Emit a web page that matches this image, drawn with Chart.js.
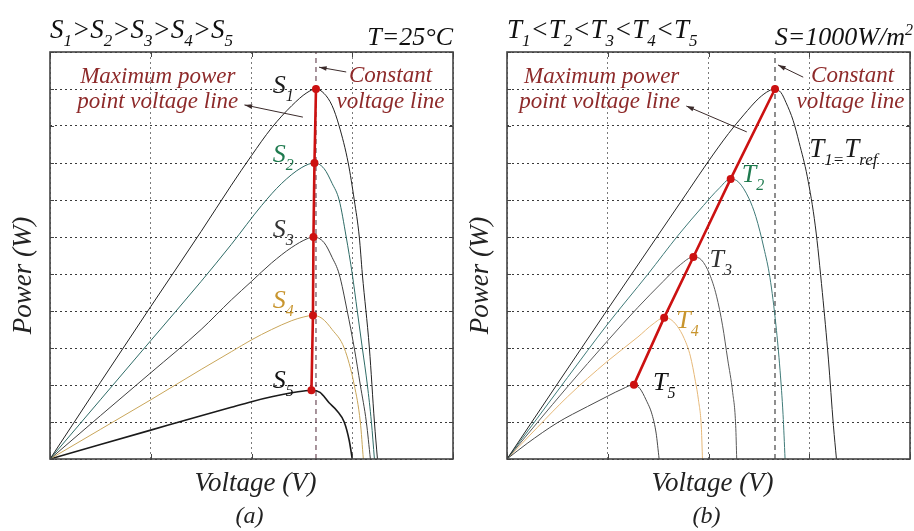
<!DOCTYPE html>
<html>
<head>
<meta charset="utf-8">
<script src="https://cdn.jsdelivr.net/npm/chart.js@4"></script>
<style>
  html, body { margin: 0; padding: 0; background: #fff; }
  #wrap { position: relative; width: 914px; height: 531px; overflow: hidden; }
  canvas { position: absolute; top: 0; }
  #chartA { left: 0; }
  #chartB { left: 457px; }
</style>
</head>
<body>
<div id="wrap">
  <canvas id="chartA" width="457" height="531"></canvas>
  <canvas id="chartB" width="457" height="531"></canvas>
</div>
<script>
// (a) P-V curves at T=25°C for five irradiance levels
const s1V = [0, 0.5, 1, 1.5, 1.8, 2.0, 2.2, 2.4, 2.55, 2.64, 2.72, 2.8, 2.87, 2.96, 3.02, 3.07, 3.10, 3.17, 3.22, 3.25];
const s1P = [0, 2.07, 4.12, 6.15, 7.4, 8.2, 8.95, 9.55, 9.9, 10, 9.88, 9.55, 9.0, 8.0, 7.0, 6.0, 5.0, 3.0, 1.0, 0];
const s2V = [0, 0.5, 1, 1.5, 1.8, 2.1, 2.3, 2.5, 2.625, 2.72, 2.8, 2.87, 2.94, 3.0, 3.05, 3.1, 3.15, 3.19, 3.22];
const s2P = [0, 1.6, 3.2, 4.8, 5.8, 6.85, 7.45, 7.88, 8.0, 7.85, 7.45, 7.0, 6.0, 5.0, 4.0, 3.0, 2.0, 1.0, 0];
const s3V = [0, 0.5, 1, 1.5, 1.8, 2.0, 2.2, 2.4, 2.55, 2.615, 2.72, 2.8, 2.87, 2.95, 3.02, 3.08, 3.14, 3.18];
const s3P = [0, 1.17, 2.33, 3.5, 4.3, 4.8, 5.3, 5.72, 5.95, 6.0, 5.85, 5.45, 5.0, 4.0, 3.0, 2.0, 1.0, 0];
const s4V = [0, 0.5, 1, 1.5, 1.8, 2.0, 2.2, 2.4, 2.52, 2.61, 2.7, 2.8, 2.92, 3.02, 3.08, 3.11];
const s4P = [0, 0.8, 1.6, 2.42, 2.9, 3.22, 3.5, 3.74, 3.84, 3.88, 3.8, 3.5, 3.0, 2.0, 1.0, 0];
const s5V = [0, 0.5, 1, 1.5, 1.8, 2.0, 2.2, 2.4, 2.52, 2.595, 2.68, 2.77, 2.85, 2.92, 2.97, 3.0];
const s5P = [0, 0.39, 0.78, 1.17, 1.4, 1.55, 1.68, 1.79, 1.84, 1.86, 1.8, 1.52, 1.3, 1.0, 0.5, 0];
const mppAV = [2.64, 2.625, 2.615, 2.61, 2.595];
const mppAP = [10, 8, 6, 3.88, 1.86];
const constVA = 2.64;

// (b) P-V curves at S=1000W/m2 for five temperatures
const t1V = [0, 0.5, 1, 1.5, 1.8, 2.0, 2.2, 2.35, 2.5, 2.6, 2.66, 2.72, 2.77, 2.84, 2.9, 2.98, 3.06, 3.13, 3.19, 3.24, 3.27];
const t1P = [0, 2.03, 4.05, 6.05, 7.25, 8.05, 8.8, 9.3, 9.75, 9.95, 10, 9.9, 9.63, 9.15, 8.55, 7.64, 6.3, 4.5, 2.7, 0.9, 0];
const t2V = [0, 0.3, 0.6, 1.0, 1.4, 1.7, 1.95, 2.1, 2.22, 2.3, 2.4, 2.47, 2.55, 2.61, 2.67, 2.71, 2.74, 2.76];
const t2P = [0, 1.1, 2.2, 3.65, 5.0, 6.05, 6.85, 7.3, 7.57, 7.48, 7.05, 6.55, 5.7, 4.9, 3.6, 2.4, 1.2, 0];
const t3V = [0, 0.3, 0.6, 1.0, 1.3, 1.55, 1.72, 1.85, 1.93, 2.01, 2.08, 2.14, 2.19, 2.24, 2.27, 2.28];
const t3P = [0, 0.98, 1.95, 3.2, 4.1, 4.8, 5.25, 5.46, 5.38, 5.0, 4.4, 3.6, 2.7, 1.8, 0.9, 0];
const t4V = [0, 0.3, 0.6, 1.0, 1.3, 1.45, 1.56, 1.62, 1.69, 1.76, 1.82, 1.87, 1.9, 1.93, 1.94];
const t4P = [0, 0.85, 1.68, 2.65, 3.3, 3.65, 3.82, 3.78, 3.59, 3.25, 2.78, 2.1, 1.6, 0.8, 0];
const t5V = [0, 0.2, 0.5, 0.8, 1.0, 1.15, 1.26, 1.32, 1.38, 1.44, 1.48, 1.51];
const t5P = [0, 0.42, 0.98, 1.42, 1.7, 1.9, 2.01, 1.9, 1.6, 1.2, 0.7, 0];
const mppBV = [2.66, 2.22, 1.85, 1.56, 1.26];
const mppBP = [10, 7.57, 5.46, 3.82, 2.01];
const constVB = 2.66;

const xTicks = [0, 1, 2, 3, 4];
const yTicks = [0, 1, 2, 3, 4, 5, 6, 7, 8, 9, 10, 11];

const FONT = '"Liberation Serif", "Times New Roman", serif';
const NOTE = '#8e2a2a';
const RED = '#cc1111';

function pts(v, p) {
    return v.map((vv, i) => ({ x: vv, y: p[i] }));
}

function curve(v, p, color, w) {
    return {
        data: pts(v, p), borderColor: color, borderWidth: w || 1, pointRadius: 0,
        showLine: true, cubicInterpolationMode: 'monotone', fill: false
    };
}

function mppLine(v, p) {
    return {
        data: pts(v, p), borderColor: RED, borderWidth: 2.6, pointRadius: 4,
        pointBackgroundColor: RED, pointBorderWidth: 0, showLine: true, tension: 0
    };
}

function constLine(v, color) {
    return {
        data: pts([v, v], [yTicks[0], yTicks[yTicks.length - 1]]), borderColor: color,
        borderWidth: 1.2, borderDash: [5, 4], pointRadius: 0, showLine: true
    };
}

// draws text with subscript (1) / superscript (2) runs
function rich(ctx, parts, x, y, size, color, align) {
    const font = m => 'italic ' + (m ? Math.round(size * 0.62) : size) + 'px ' + FONT;
    let w = 0;
    parts.forEach(p => { ctx.font = font(p[1]); w += ctx.measureText(p[0]).width; });
    let cx = align === 'center' ? x - w / 2 : align === 'right' ? x - w : x;
    ctx.textAlign = 'left';
    ctx.textBaseline = 'alphabetic';
    ctx.fillStyle = color;
    parts.forEach(p => {
        ctx.font = font(p[1]);
        const dy = p[1] === 1 ? size * 0.3 : p[1] === 2 ? -size * 0.4 : 0;
        ctx.fillText(p[0], cx, y + dy);
        cx += ctx.measureText(p[0]).width;
    });
}

function arrow(ctx, x1, y1, x2, y2) {
    const a = Math.atan2(y2 - y1, x2 - x1);
    ctx.strokeStyle = '#3b2b2b';
    ctx.fillStyle = '#3b2b2b';
    ctx.lineWidth = 1;
    ctx.beginPath(); ctx.moveTo(x1, y1); ctx.lineTo(x2, y2); ctx.stroke();
    ctx.beginPath();
    ctx.moveTo(x2, y2);
    ctx.lineTo(x2 - 8 * Math.cos(a - 0.3), y2 - 8 * Math.sin(a - 0.3));
    ctx.lineTo(x2 - 8 * Math.cos(a + 0.3), y2 - 8 * Math.sin(a + 0.3));
    ctx.closePath(); ctx.fill();
}

const decor = {
    id: 'decor',
    afterDraw(chart, args, o) {
        const { ctx, chartArea: ca, scales: { x, y } } = chart;
        const px = v => x.getPixelForValue(v);
        const py = v => y.getPixelForValue(v);
        ctx.save();

        // frame with inward ticks
        ctx.strokeStyle = '#444';
        ctx.lineWidth = 1;
        ctx.beginPath();
        xTicks.forEach(t => {
            const xx = Math.round(px(t)) + 0.5;
            ctx.moveTo(xx, ca.bottom); ctx.lineTo(xx, ca.bottom - 5);
            ctx.moveTo(xx, ca.top); ctx.lineTo(xx, ca.top + 5);
        });
        yTicks.forEach(t => {
            const yy = Math.round(py(t)) + 0.5;
            ctx.moveTo(ca.left, yy); ctx.lineTo(ca.left + 4, yy);
            ctx.moveTo(ca.right, yy); ctx.lineTo(ca.right - 4, yy);
        });
        ctx.stroke();
        ctx.lineWidth = 1.6;
        ctx.strokeRect(ca.left, ca.top, ca.width, ca.height);

        // headers
        rich(ctx, o.headLeft, ca.left, 38, 27, '#111', 'left');
        rich(ctx, o.headRight, ca.right + o.headShift, 45, 26, '#111', 'right');

        // axis titles and panel tag
        ctx.fillStyle = '#222';
        ctx.textAlign = 'center';
        ctx.textBaseline = 'alphabetic';
        ctx.font = 'italic 27px ' + FONT;
        ctx.fillText('Voltage (V)', (ca.left + ca.right) / 2 + 4, 491);
        ctx.save();
        ctx.translate(ca.left - 19, (ca.top + ca.bottom) / 2 + 20);
        ctx.rotate(-Math.PI / 2);
        ctx.fillText('Power (W)', 0, 0);
        ctx.restore();
        ctx.font = 'italic 24px ' + FONT;
        ctx.fillText(o.panel, (ca.left + ca.right) / 2 - 2, 523);

        // annotations
        o.notes.forEach(n => {
            ctx.font = 'italic 23px ' + FONT;
            ctx.fillStyle = NOTE;
            ctx.textAlign = 'center';
            ctx.fillText(n.t, px(n.x), py(n.y));
        });
        o.arrows.forEach(a => arrow(ctx, px(a[0]), py(a[1]), px(a[2]), py(a[3])));
        o.labels.forEach(l => rich(ctx, l.parts, px(l.x), py(l.y), l.size || 26, l.color, 'left'));
        ctx.restore();
    }
};

function options(decorOpts) {
    return {
        responsive: false,
        animation: false,
        events: [],
        layout: { padding: { left: 0, right: 3, top: 52, bottom: 0 } },
        plugins: { legend: { display: false }, tooltip: { enabled: false }, decor: decorOpts },
        scales: {
            x: {
                type: 'linear', min: xTicks[0], max: xTicks[xTicks.length - 1],
                ticks: { display: false, stepSize: 1 },
                grid: { color: '#7a7a7a', drawTicks: false },
                border: { display: false, dash: [2, 3] },
                afterFit: s => { s.height = 72; }
            },
            y: {
                type: 'linear', min: yTicks[0], max: yTicks[yTicks.length - 1],
                ticks: { display: false, stepSize: 1 },
                grid: { color: '#3a3a3a', drawTicks: false },
                border: { display: false, dash: [2, 3] },
                afterFit: s => { s.width = 50; }
            }
        }
    };
}

new Chart(document.getElementById('chartA'), {
    type: 'scatter',
    data: {
        datasets: [
            mppLine(mppAV, mppAP),
            curve(s1V, s1P, '#222'),
            curve(s2V, s2P, '#2e6b66'),
            curve(s3V, s3P, '#404040'),
            curve(s4V, s4P, '#c9a65a'),
            curve(s5V, s5P, '#1a1a1a', 1.6),
            constLine(constVA, '#6e4d5a')
        ]
    },
    options: options({
        panel: '(a)',
        headShift: 0,
        headLeft: [['S', 0], ['1', 1], ['>', 0], ['S', 0], ['2', 1], ['>', 0], ['S', 0], ['3', 1], ['>', 0], ['S', 0], ['4', 1], ['>', 0], ['S', 0], ['5', 1]],
        headRight: [['T=25°C', 0]],
        notes: [
            { t: 'Maximum power', x: 1.07, y: 10.16 },
            { t: 'point voltage line', x: 1.07, y: 9.49 },
            { t: 'Constant', x: 3.38, y: 10.19 },
            { t: 'voltage line', x: 3.38, y: 9.49 }
        ],
        arrows: [[2.94, 10.46, 2.67, 10.59], [2.51, 9.24, 1.93, 9.57]],
        labels: [
            { parts: [['S', 0], ['1', 1]], x: 2.21, y: 9.89, color: '#1a1a1a' },
            { parts: [['S', 0], ['2', 1]], x: 2.21, y: 8.03, color: '#1e7a4e' },
            { parts: [['S', 0], ['3', 1]], x: 2.21, y: 6.0, color: '#333' },
            { parts: [['S', 0], ['4', 1]], x: 2.21, y: 4.08, color: '#c8952e' },
            { parts: [['S', 0], ['5', 1]], x: 2.21, y: 1.92, color: '#111' }
        ]
    }),
    plugins: [decor]
});

new Chart(document.getElementById('chartB'), {
    type: 'scatter',
    data: {
        datasets: [
            mppLine(mppBV, mppBP),
            curve(t1V, t1P, '#262626'),
            curve(t2V, t2P, '#3f7a78'),
            curve(t3V, t3P, '#5a5a5a'),
            curve(t4V, t4P, '#e6b878'),
            curve(t5V, t5P, '#4a4a4a'),
            constLine(constVB, '#444')
        ]
    },
    options: options({
        panel: '(b)',
        headShift: 3,
        headLeft: [['T', 0], ['1', 1], ['<', 0], ['T', 0], ['2', 1], ['<', 0], ['T', 0], ['3', 1], ['<', 0], ['T', 0], ['4', 1], ['<', 0], ['T', 0], ['5', 1]],
        headRight: [['S=1000W/m', 0], ['2', 2]],
        notes: [
            { t: 'Maximum power', x: 0.94, y: 10.16 },
            { t: 'point voltage line', x: 0.92, y: 9.49 },
            { t: 'Constant', x: 3.43, y: 10.19 },
            { t: 'voltage line', x: 3.41, y: 9.49 }
        ],
        arrows: [[2.94, 10.32, 2.69, 10.65], [2.38, 8.84, 1.78, 9.54]],
        labels: [
            { parts: [['T', 0], ['1', 1], ['=', 1], ['T', 0], ['ref', 1]], x: 3.0, y: 8.16, color: '#1a1a1a', size: 27 },
            { parts: [['T', 0], ['2', 1]], x: 2.33, y: 7.49, color: '#1e7a4e' },
            { parts: [['T', 0], ['3', 1]], x: 2.01, y: 5.19, color: '#333' },
            { parts: [['T', 0], ['4', 1]], x: 1.68, y: 3.54, color: '#c8952e' },
            { parts: [['T', 0], ['5', 1]], x: 1.45, y: 1.86, color: '#111' }
        ]
    }),
    plugins: [decor]
});
</script>
</body>
</html>
